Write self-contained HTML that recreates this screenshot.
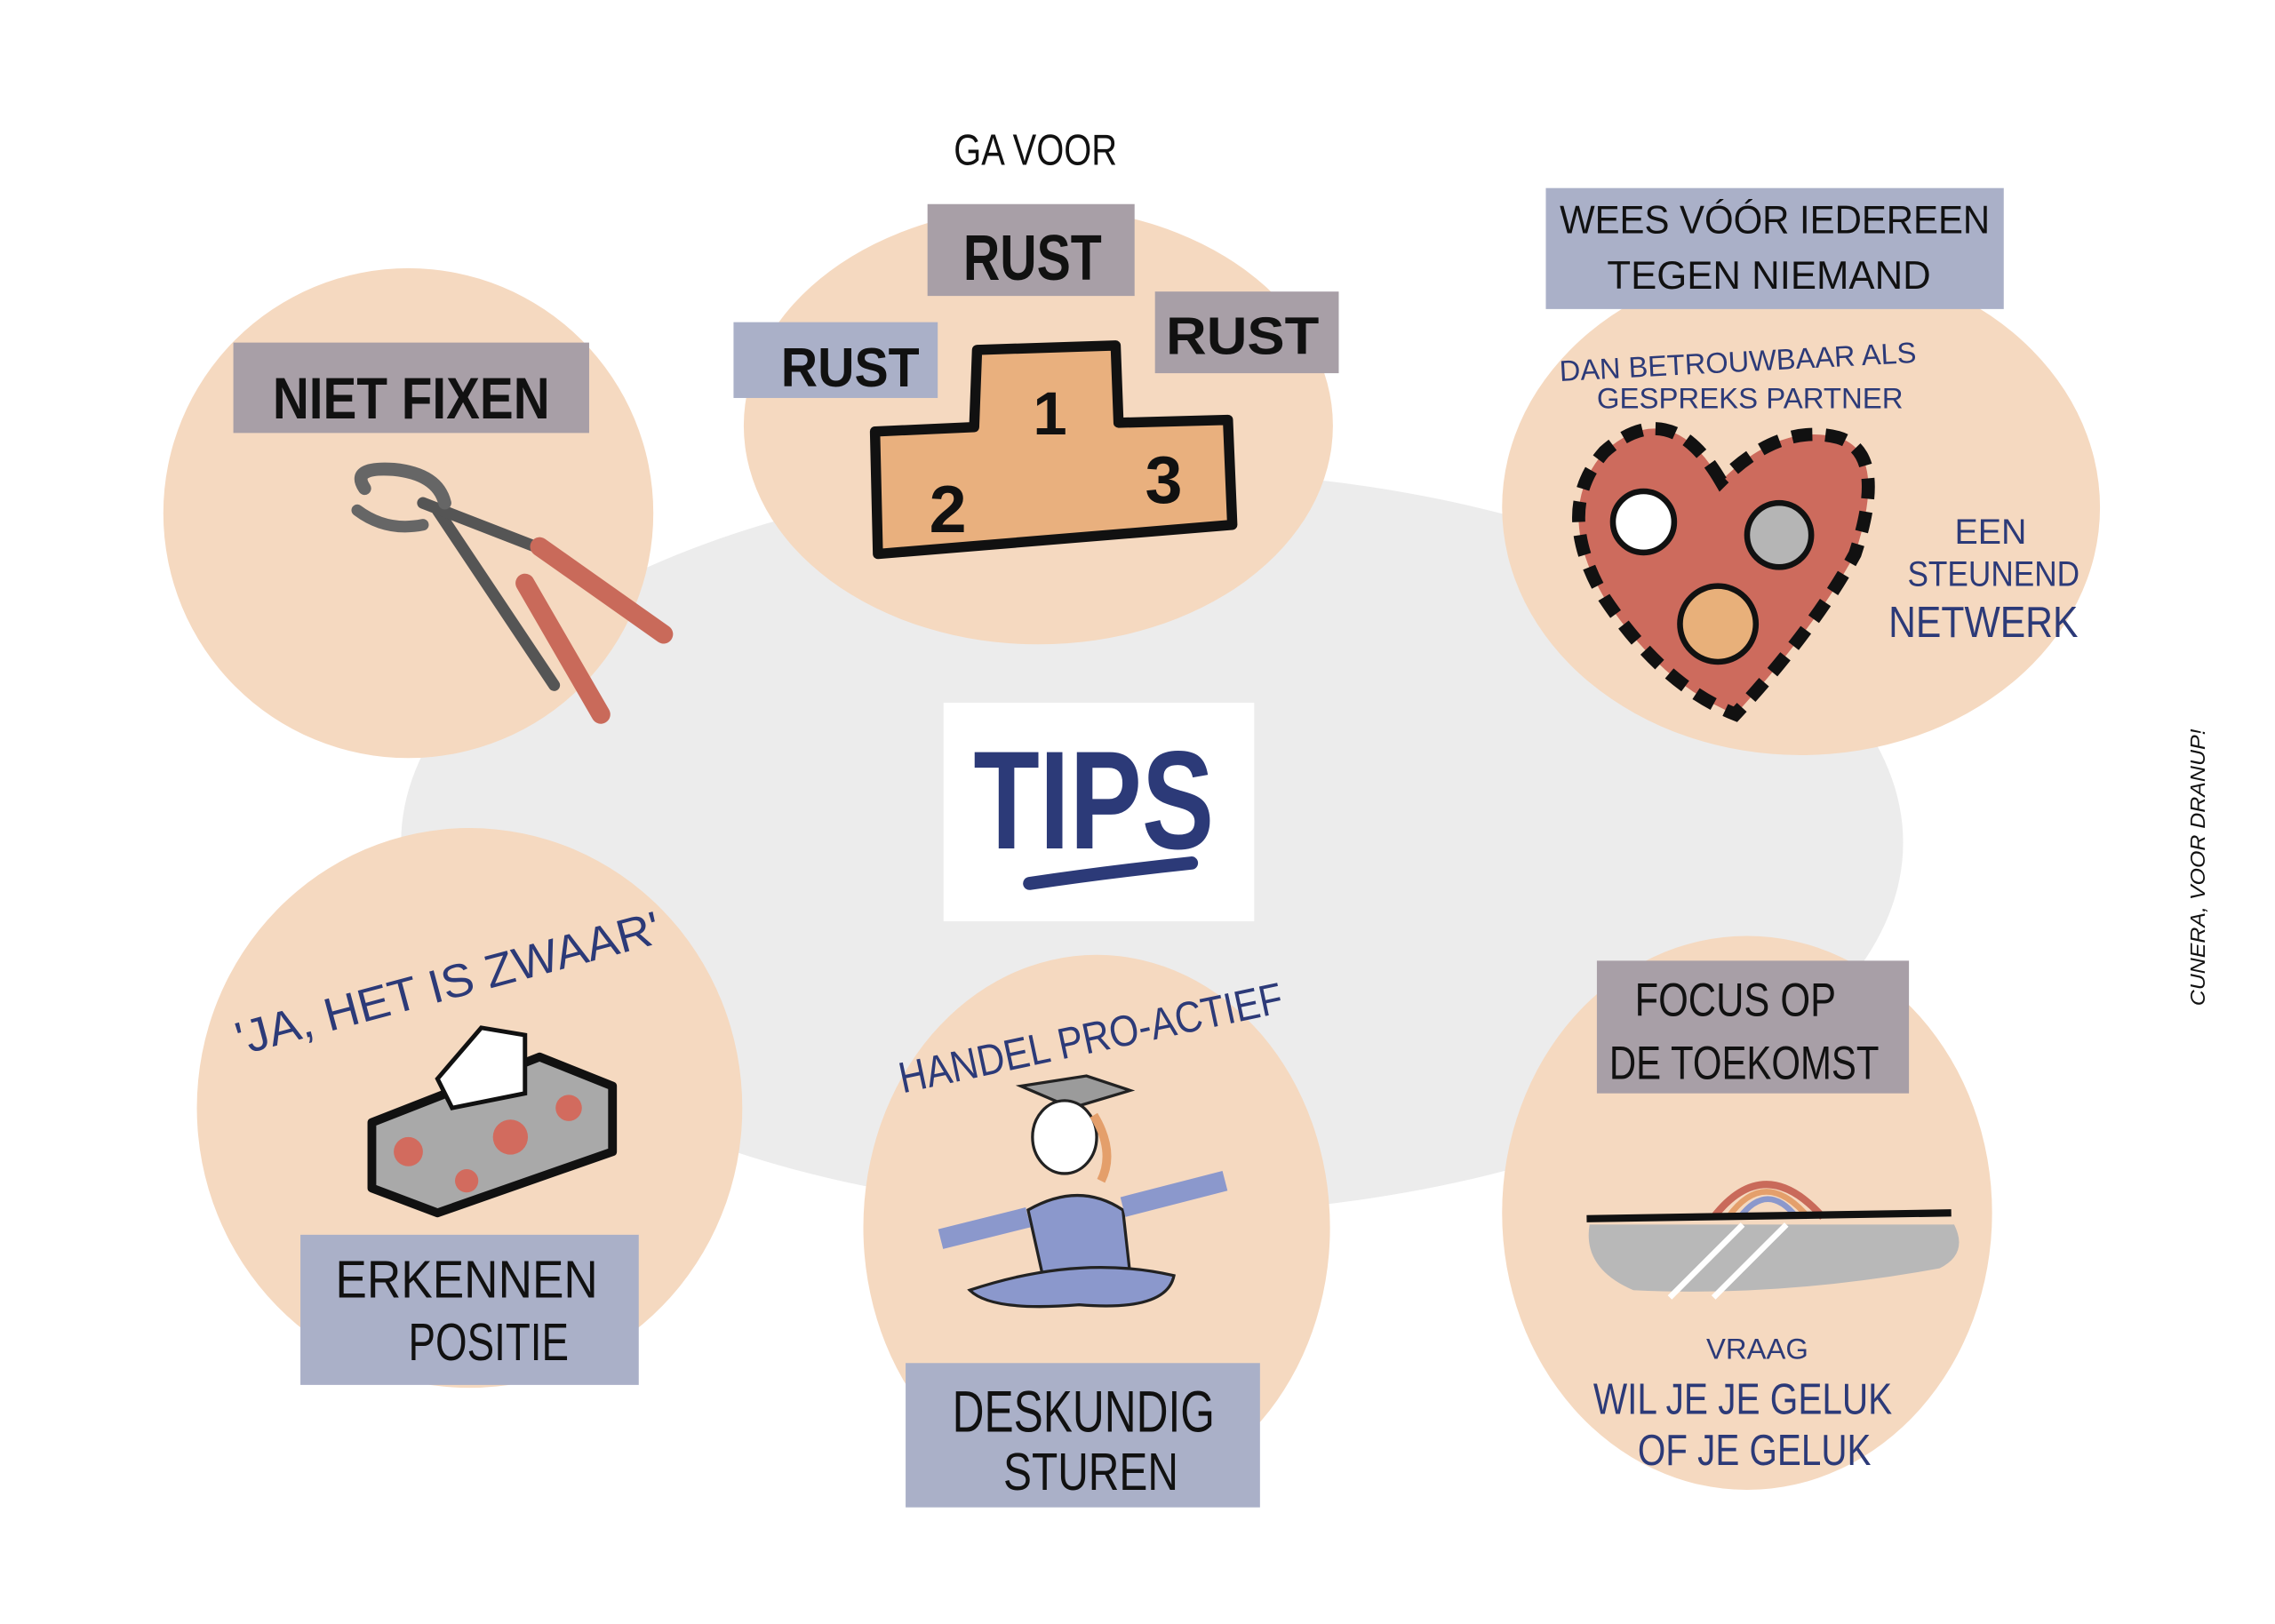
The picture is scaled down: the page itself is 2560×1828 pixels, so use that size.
<!DOCTYPE html>
<html><head><meta charset="utf-8"><style>
html,body{margin:0;padding:0;background:#fff}
svg{display:block}
text{font-family:"Liberation Sans",sans-serif}
</style></head><body>
<svg width="2560" height="1828" viewBox="0 0 1560 1114" preserveAspectRatio="none" xmlns="http://www.w3.org/2000/svg">
<rect width="1560" height="1114" fill="#fff"/>
<ellipse cx="790" cy="578" rx="515" ry="255" fill="#ececec"/>
<g fill="#f5d9c0">
<ellipse cx="280" cy="352" rx="168" ry="168"/>
<ellipse cx="712" cy="292" rx="202" ry="150"/>
<ellipse cx="1235" cy="348" rx="205" ry="170"/>
<ellipse cx="322" cy="760" rx="187" ry="192"/>
<ellipse cx="752" cy="842" rx="160" ry="187"/>
<ellipse cx="1198" cy="832" rx="168" ry="190"/>
</g>
<!-- label boxes -->
<g fill="#a89fa7">
<rect x="160" y="235" width="244" height="62"/>
<rect x="636" y="140" width="142" height="63"/>
<rect x="792" y="200" width="126" height="56"/>
<rect x="1095" y="659" width="214" height="91"/>
</g>
<g fill="#aab0c8">
<rect x="503" y="221" width="140" height="52"/>
<rect x="1060" y="129" width="314" height="83"/>
<rect x="206" y="847" width="232" height="103"/>
<rect x="621" y="935" width="243" height="99"/>
</g>
<g fill="#111" font-weight="bold" transform="">
<text x="282" y="287" font-size="40" text-anchor="middle" textLength="190" lengthAdjust="spacingAndGlyphs">NIET FIXEN</text>
<text x="708" y="192" font-size="44" text-anchor="middle" textLength="95" lengthAdjust="spacingAndGlyphs">RUST</text>
<text x="583" y="265" font-size="38" text-anchor="middle" textLength="95" lengthAdjust="spacingAndGlyphs">RUST</text>
<text x="852" y="243" font-size="36" text-anchor="middle" textLength="105" lengthAdjust="spacingAndGlyphs">RUST</text>
<text x="710" y="113" font-size="30" font-weight="normal" text-anchor="middle" textLength="112" lengthAdjust="spacingAndGlyphs">GA VOOR</text>
<text x="1217" y="160" font-size="27" font-weight="normal" text-anchor="middle" textLength="295" lengthAdjust="spacingAndGlyphs">WEES VÓÓR IEDEREEN</text>
<text x="1213" y="198" font-size="27" font-weight="normal" text-anchor="middle" textLength="222" lengthAdjust="spacingAndGlyphs">TEGEN NIEMAND</text>
<text x="1190" y="697" font-size="32" font-weight="normal" text-anchor="middle" textLength="138" lengthAdjust="spacingAndGlyphs">FOCUS OP</text>
<text x="1196" y="740" font-size="32" font-weight="normal" text-anchor="middle" textLength="185" lengthAdjust="spacingAndGlyphs">DE TOEKOMST</text>
<text x="320" y="890" font-size="36" font-weight="normal" text-anchor="middle" textLength="180" lengthAdjust="spacingAndGlyphs">ERKENNEN</text>
<text x="335" y="933" font-size="36" font-weight="normal" text-anchor="middle" textLength="110" lengthAdjust="spacingAndGlyphs">POSITIE</text>
<text x="743" y="982" font-size="40" font-weight="normal" text-anchor="middle" textLength="180" lengthAdjust="spacingAndGlyphs">DESKUNDIG</text>
<text x="748" y="1022" font-size="36" font-weight="normal" text-anchor="middle" textLength="120" lengthAdjust="spacingAndGlyphs">STUREN</text>
</g>
<!-- navy texts -->
<g fill="#2c3a78">
<text x="1192" y="255" font-size="20" text-anchor="middle" textLength="245" lengthAdjust="spacingAndGlyphs" transform="rotate(-3 1192 255)">DAN BETROUWBAAR ALS</text>
<text x="1200" y="280" font-size="20" text-anchor="middle" textLength="210" lengthAdjust="spacingAndGlyphs">GESPREKS PARTNER</text>
<text x="1365" y="373" font-size="24" text-anchor="middle">EEN</text>
<text x="1367" y="402" font-size="24" text-anchor="middle" textLength="118" lengthAdjust="spacingAndGlyphs">STEUNEND</text>
<text x="1360" y="437" font-size="30" text-anchor="middle" textLength="130" lengthAdjust="spacingAndGlyphs">NETWERK</text>
<text x="310" y="685" font-size="32" text-anchor="middle" textLength="300" lengthAdjust="spacingAndGlyphs" transform="rotate(-15 310 685)">'JA, HET IS ZWAAR'</text>
<text x="750" y="722" font-size="30" text-anchor="middle" textLength="268" lengthAdjust="spacingAndGlyphs" transform="rotate(-12 750 722)">HANDEL PRO-ACTIEF</text>
<text x="1205" y="932" font-size="20" text-anchor="middle">VRAAG</text>
<text x="1195" y="970" font-size="30" text-anchor="middle" textLength="205" lengthAdjust="spacingAndGlyphs">WIL JE JE GELUK</text>
<text x="1203" y="1005" font-size="30" text-anchor="middle" textLength="160" lengthAdjust="spacingAndGlyphs">OF JE GELUK</text>
</g>
<!-- TIPS -->
<rect x="647" y="482" width="213" height="150" fill="#fff"/>
<text x="750" y="582" font-size="96" font-weight="bold" fill="#2c3a78" text-anchor="middle" textLength="165" lengthAdjust="spacingAndGlyphs">TIPS</text>
<path d="M706 606 Q760 598 817 592" stroke="#2c3a78" stroke-width="9" stroke-linecap="round" fill="none"/>
<!-- credit -->
<text x="1512" y="690" font-size="14" font-style="italic" fill="#111" transform="rotate(-90 1512 690)" textLength="190" lengthAdjust="spacingAndGlyphs">CUNERA, VOOR DRANUP!</text>
<!-- podium -->
<path d="M670 240 L765 237 L767 290 L842 288 L845 360 L602 380 L600 296 L668 293 Z" fill="#e9b07e" stroke="#111" stroke-width="7" stroke-linejoin="round"/>
<text x="720" y="298" font-size="42" font-weight="bold" text-anchor="middle" fill="#111">1</text>
<text x="650" y="365" font-size="46" font-weight="bold" text-anchor="middle" fill="#111">2</text>
<text x="798" y="345" font-size="46" font-weight="bold" text-anchor="middle" fill="#111">3</text>
<!-- pliers -->
<g stroke="#333" stroke-width="3" stroke-linecap="round">
<path d="M300 350 L380 470" stroke="#555" stroke-width="8"/>
<path d="M360 400 L412 490" stroke="#c96a5a" stroke-width="13"/>
<path d="M290 345 L380 380" stroke="#555" stroke-width="8"/>
<path d="M370 375 L455 435" stroke="#c96a5a" stroke-width="13"/>
<path d="M250 335 Q240 320 270 322 Q300 325 305 345" fill="none" stroke="#666" stroke-width="9"/>
<path d="M245 350 Q265 365 290 360" fill="none" stroke="#666" stroke-width="8"/>
</g>
<!-- heart -->
<path d="M1180 330 Q1145 270 1100 310 Q1065 350 1100 410 Q1140 470 1190 490 Q1245 430 1272 380 Q1295 310 1260 300 Q1220 290 1180 330 Z" fill="#cd6b5d" stroke="#111" stroke-width="9" stroke-dasharray="14 9"/>
<circle cx="1127" cy="358" r="21" fill="#fff" stroke="#111" stroke-width="4"/>
<circle cx="1220" cy="367" r="22" fill="#b5b5b5" stroke="#111" stroke-width="4"/>
<circle cx="1178" cy="428" r="26" fill="#e8b07a" stroke="#111" stroke-width="4"/>
<!-- tissue box -->
<path d="M255 770 L370 725 L420 745 L420 790 L300 832 L255 815 Z" fill="#a9a9a9" stroke="#111" stroke-width="6" stroke-linejoin="round"/>
<path d="M300 740 L330 705 L360 710 L360 750 L310 760 Z" fill="#fff" stroke="#111" stroke-width="3"/>
<g fill="#d26b5e"><circle cx="280" cy="790" r="10"/><circle cx="350" cy="780" r="12"/><circle cx="390" cy="760" r="9"/><circle cx="320" cy="810" r="8"/></g>
<!-- person -->
<g stroke="#222" stroke-width="2">
<path d="M700 745 L745 738 L775 748 L735 760 Z" fill="#9b9b9b"/>
<ellipse cx="730" cy="780" rx="22" ry="25" fill="#fff"/>
<path d="M750 765 Q765 790 755 810" stroke="#e49f6b" stroke-width="6" fill="none"/>
<path d="M705 830 Q740 810 770 830 L775 875 L715 875 Z" fill="#8b98cc"/>
<path d="M705 835 L645 850" stroke="#8b98cc" stroke-width="14" fill="none"/>
<path d="M770 828 L840 810" stroke="#8b98cc" stroke-width="14" fill="none"/>
<path d="M665 885 Q740 860 805 875 Q800 900 740 895 Q680 900 665 885 Z" fill="#8b98cc"/>
</g>
<!-- road & rainbow -->
<path d="M1090 840 L1340 840 Q1350 860 1330 870 Q1220 890 1120 885 Q1085 870 1090 840 Z" fill="#b8b8b8"/>
<path d="M1175 835 Q1210 790 1250 835" stroke="#c96a5a" stroke-width="5" fill="none"/>
<path d="M1185 835 Q1210 800 1240 835" stroke="#e49f6b" stroke-width="4" fill="none"/>
<path d="M1193 835 Q1212 810 1232 835" stroke="#8b98cc" stroke-width="4" fill="none"/>
<path d="M1088 836 L1338 832" stroke="#111" stroke-width="5"/>
<path d="M1195 840 L1145 890 M1225 840 L1175 890" stroke="#fff" stroke-width="4"/>
</svg>
</body></html>
